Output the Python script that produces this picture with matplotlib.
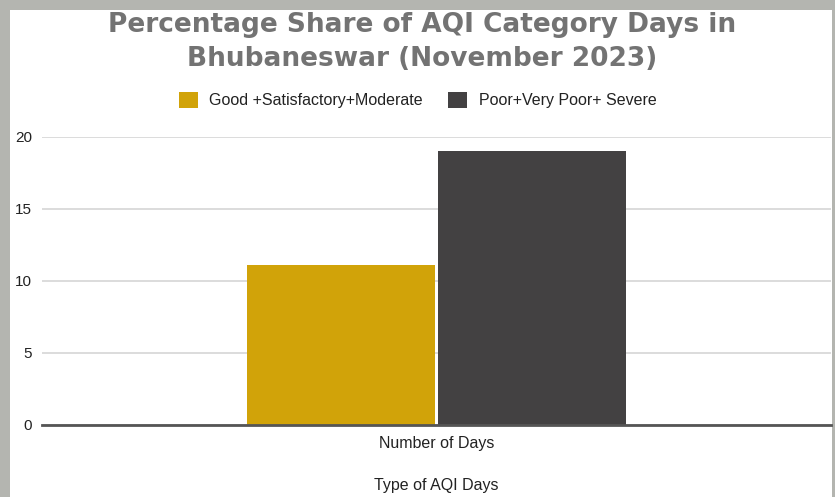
import numpy as np
import matplotlib.pyplot as plt
from matplotlib.patches import Rectangle

plt.rcParams['font.family'] = ['Liberation Sans', 'DejaVu Sans']

### DATA ###
category = ['Number of Days']
series_names = ['Good +Satisfactory+Moderate', 'Poor+Very Poor+ Severe']
series_values = [[11.1], [19]]
colors = ['#D1A309', '#434142']
yticks = [0, 5, 10, 15, 20]

### FIGURE ###
fig = plt.figure(figsize=(8.35, 4.97), dpi=100)
fig.patch.set_facecolor('#B4B5B0')
fig.patches.append(Rectangle((10/835, 0), 822/835, 487/497, transform=fig.transFigure,
                             facecolor='white', edgecolor='none', zorder=-5))

ax = fig.add_axes([42/835, 1 - 425/497, 789/835, (425 - 137)/497])
ax.set_facecolor('none')

x = np.arange(len(category))
width = 0.238
offsets = [-0.1215, 0.1215]
for name, vals, off, c in zip(series_names, series_values, offsets, colors):
    ax.bar(x + off, vals, width, color=c, label=name, zorder=3)

ax.set_xlim(-0.5, 0.5)
ax.set_ylim(0, 20)
ax.set_yticks(yticks)
ax.set_xticks(x)
ax.set_xticklabels(category)
ax.grid(axis='y', color='#D6D6D6', linewidth=1.2, zorder=0)
ax.axhline(0, color='#555555', linewidth=2.0, zorder=4, clip_on=False)
for s in ax.spines.values():
    s.set_visible(False)
ax.tick_params(axis='both', length=0, labelsize=11.5, colors='#222222')
ax.tick_params(axis='y', labelsize=11, pad=7)
ax.tick_params(axis='x', pad=8)
ax.set_xlabel('Type of AQI Days', fontsize=11.5, color='#222222', labelpad=19)

fig.text(0.505, 1 - 42/497, 'Percentage Share of AQI Category Days in\nBhubaneswar (November 2023)',
         ha='center', va='center', fontsize=19, fontweight='heavy', color='#737373',
         linespacing=1.35, family='DejaVu Sans')

fig.legend(loc='center', bbox_to_anchor=(0.5, 1 - 100/497), ncol=2, frameon=False,
           fontsize=11.5, handlelength=1.2, handleheight=1.2, columnspacing=1.6,
           handletextpad=0.7, labelcolor='#222222')

fig.savefig('out.png', dpi=100)
